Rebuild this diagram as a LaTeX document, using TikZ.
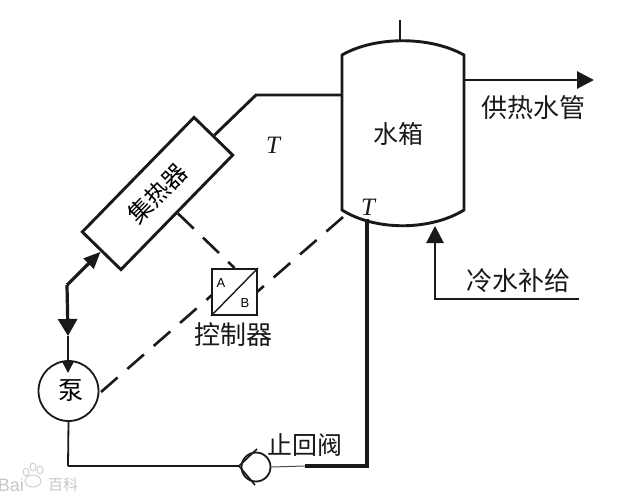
\documentclass[tikz,border=0pt]{standalone}
\usepackage{fontspec}
\setmainfont{Liberation Serif}
\newfontfamily\cjk{Noto Sans CJK SC}
\newfontfamily\latinsans{Liberation Sans}
\usetikzlibrary{arrows.meta}
\tikzset{
  pipe/.style={draw=black!90,line width=2.9pt,line join=miter},
  ctrl/.style={draw=black!90,line width=2.6pt,dash pattern=on 22pt off 13pt},
  bigtip/.style={-{Triangle[length=17pt,width=17pt]}},
  smalltip/.style={-{Triangle[length=12pt,width=12pt]}},
  lbl/.style={font=\cjk\fontsize{26}{26}\selectfont,inner sep=0pt,text=black!90},
  tlbl/.style={font=\itshape\fontsize{25}{25}\selectfont,inner sep=0pt,text=black!90},
  wmark/.style={text=black!22,inner sep=0pt},
  paw/.style={draw=black!18,line width=1pt},
}
\begin{document}
\begin{tikzpicture}[x=1pt,y=-1pt]
\useasboundingbox (0,0) rectangle (634,497);
\fill[white] (0,0) rectangle (634,497);
% tank
\coordinate (tnw) at (342,55);
\coordinate (tne) at (464,55);
\coordinate (tse) at (464,210);
\coordinate (tsw) at (342,210);
\coordinate (ttop) at (400,42);
\coordinate (tstem) at (400,20);
\coordinate (tin) at (342,95);
\coordinate (tout) at (464,80);
\coordinate (tbot) at (367,219);
\coordinate (tcold) at (435,226);
\draw[pipe] (tnw) .. controls (375,36) and (430,36) .. (tne) -- (tse)
  .. controls (430,231) and (375,231) .. (tsw) -- cycle;
\draw[pipe] (ttop) -- (tstem);
\node[lbl,font=\cjk\fontsize{25}{25}\selectfont] (tanklabel) at (398,134) {水箱};
% collector
\node[draw=black!90,line width=2.9pt,minimum width=160pt,minimum height=54pt,rotate=45.7,inner sep=0pt,fill=white]
  (coll) at (157.5,193.5) {\cjk\fontsize{24}{24}\selectfont 集热器};
% pump
\node[circle,draw=black!90,line width=1.8pt,minimum size=60pt,inner sep=0pt,font=\cjk\fontsize{25}{25}\selectfont] (pump) at (68.5,391) {\hspace{4pt}泵};
% controller
\node[draw=black!90,line width=2pt,minimum width=45pt,minimum height=46pt,inner sep=0pt] (box) at (234.5,292) {};
\draw[line width=1.4pt,black!90] (box.south west) -- (box.north east);
\node[font=\latinsans\fontsize{13}{13}\selectfont,inner sep=0pt] (lA) at (221,283) {A};
\node[font=\latinsans\fontsize{13}{13}\selectfont,inner sep=0pt] (lB) at (245,303) {B};
\node[lbl] (boxlabel) at (233.5,335) {控制器};
% valve
\node[circle,draw=black!90,line width=1.8pt,minimum size=29pt,inner sep=0pt] (valve) at (256,467) {};
\coordinate (vapex) at (239,466);
\coordinate (vup) at (257,449);
\coordinate (vdn) at (255,485);
\draw[line width=1.6pt,black!90] (vup) -- (vapex) -- (vdn);
\node[lbl,font=\cjk\fontsize{25}{25}\selectfont] (vlabel) at (305,445) {止回阀};
% hot pipe
\coordinate (hbend) at (256,95);
\draw[pipe] (coll.east) -- (hbend) -- (tin);
\node[tlbl] (t1) at (273,145) {T};
\node[tlbl] (t2) at (368,207) {T};
% supply
\coordinate (sup) at (594,80);
\draw[pipe,bigtip] (tout) -- (sup);
\node[lbl] (suplabel) at (533,108) {供热水管};
% cold feed
\coordinate (cend) at (579,299);
\coordinate (cbend) at (435,299);
\draw[pipe,bigtip] (cend) -- (cbend) -- (tcold);
\node[lbl] (coldlabel) at (518,281) {冷水补给};
% collector-pump link
\coordinate (lbend) at (67,285);
\coordinate (ltip) at (68,336);
\coordinate (ptip) at (68,373);
\draw[line width=3.2pt,black!90,-{Triangle[length=17pt,width=14pt]}] (lbend) -- (coll.west);
\draw[line width=3.2pt,black!90,-{Triangle[length=17pt,width=19pt]}] (lbend) -- (ltip);
\draw[line width=1.7pt,black!90,smalltip] (ltip) -- (ptip);
% return
\coordinate (rc1) at (68,466);
\coordinate (rc2) at (367,466);
\coordinate (rc3) at (305,466);
\draw[line width=1.8pt,black!90] (pump.south) -- (rc1);
\draw[pipe] (rc1) -- (vapex);
\draw[line width=1pt,black!70] (valve.east) -- (rc3);
\draw[line width=3.2pt,black!90] (rc3) -- (rc2) -- (tbot);
% control lines
\draw[ctrl] (coll.south) -- (box.north);
\coordinate (bl) at (212,295);
\coordinate (br) at (257,292);
\coordinate (tend) at (343,217);
\coordinate (ps) at (101,392);
\draw[ctrl] (ps) -- (bl);
\draw[ctrl] (tend) -- (br);
% watermark
\draw[paw] (33,481) ellipse (8pt and 6pt);
\draw[paw] (26,472) ellipse (3pt and 4pt);
\draw[paw] (33,467) ellipse (3pt and 4pt);
\draw[paw] (40,470) ellipse (3pt and 4pt);
\node[wmark,anchor=east,font=\latinsans\fontsize{18}{18}\selectfont] (wm1) at (24,485) {Bai};
\node[wmark,font=\cjk\fontsize{15}{15}\selectfont] (wm2) at (63,485) {百科};
\end{tikzpicture}
\end{document}
